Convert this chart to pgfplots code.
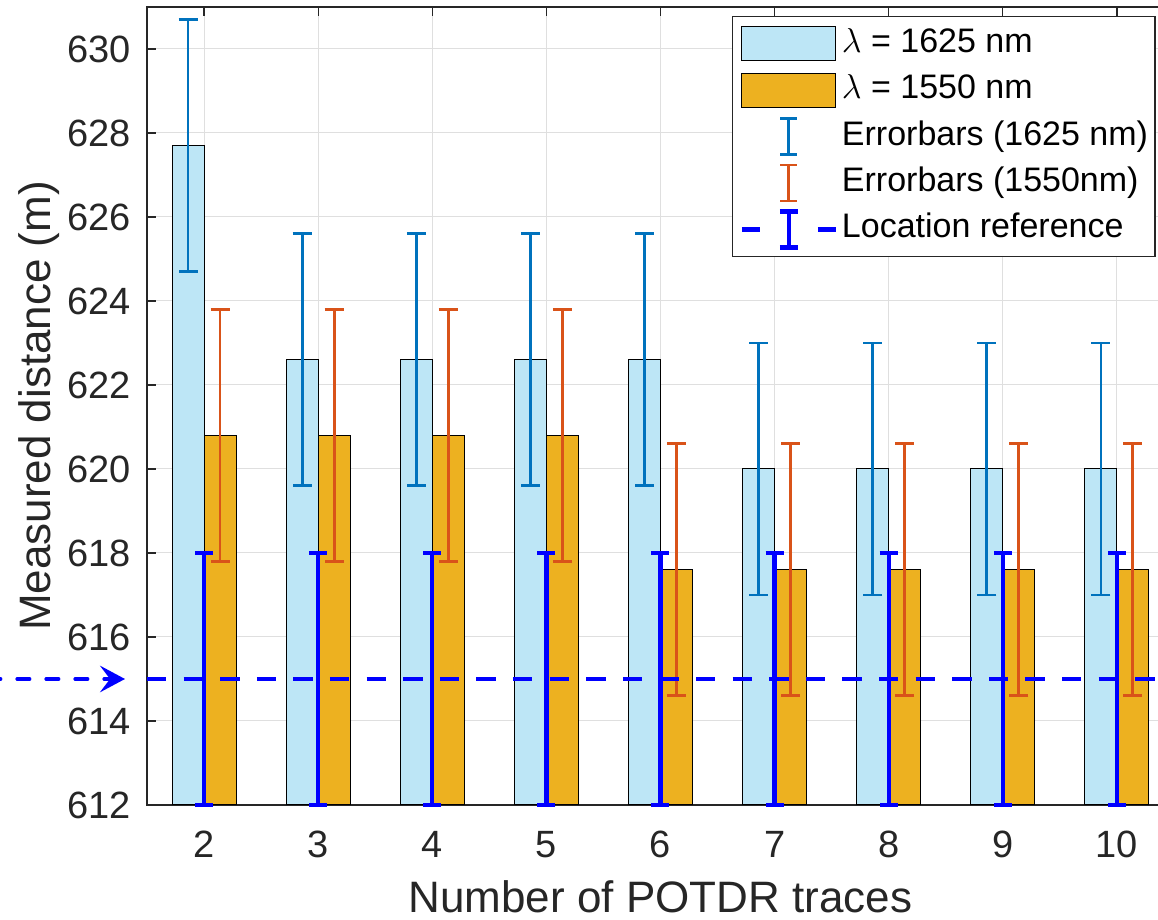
\documentclass[border=0pt]{standalone}
\usepackage{fontspec}
\setmainfont{Liberation Sans}
\usepackage{pgfplots}
\pgfplotsset{compat=1.18}
\usetikzlibrary{arrows.meta}
\definecolor{barblue}{HTML}{BDE6F6}
\definecolor{barorange}{HTML}{EDB120}
\definecolor{ebblue}{HTML}{0072BD}
\definecolor{eborange}{HTML}{D95319}
\definecolor{axgray}{HTML}{262626}
\definecolor{gridgray}{HTML}{DFDFDF}
\definecolor{refblue}{HTML}{0000FF}

\pgfplotsset{
  common/.style={scale only axis, width=513.5pt, height=399pt,
    xmin=1.5, xmax=10.5, ymin=612, ymax=631, at={(0,0)}, anchor=south west},
  eb/.style={draw=none, mark=none, forget plot,
    error bars/.cd, y dir=both, y explicit,
    error bar style={#1, line width=1.4pt, solid},
    error mark options={#1, line width=1.4pt, mark size=4.75pt, solid, rotate=90}},
  ebref/.style={draw=none, mark=none, forget plot,
    error bars/.cd, y dir=both, y explicit,
    error bar style={refblue, line width=2.2pt, solid},
    error mark options={refblue, line width=2.2pt, mark size=4.5pt, solid, rotate=90}},
}

\begin{document}
\begin{tikzpicture}
\begin{axis}[common,
  grid=major, grid style={gridgray, line width=0.5pt},
  axis line style={axgray, line width=0.6pt},
  tick style={axgray, line width=0.6pt}, tick align=inside, major tick length=4.5pt,
  xtick={2,...,10}, ytick={612,614,...,630},
  /pgf/number format/assume math mode=true,
  ticklabel style={font=\fontsize{19}{19}\selectfont, text=axgray},
  xticklabel style={anchor=base, inner sep=0pt, yshift=-26.5pt},
  yticklabel style={anchor=east, inner sep=0pt, xshift=-8pt},
  xlabel={Number of POTDR traces}, ylabel={Measured distance (m)},
  label style={font=\fontsize{22}{22}\selectfont, text=axgray, inner sep=0pt},
  xlabel style={at={([yshift=-53.9pt]rel axis cs:0.5,0)}, anchor=base},
  ylabel style={at={([xshift=-54pt]rel axis cs:0,0.5)}, anchor=center},
]
\addplot[ybar, bar width=16pt, bar shift=-8pt, fill=barblue, draw=black, line width=0.5pt]
  coordinates {(2,627.7) (3,622.6) (4,622.6) (5,622.6) (6,622.6) (7,620.0) (8,620.0) (9,620.0) (10,620.0)};
\addplot[ybar, bar width=16pt, bar shift=8pt, fill=barorange, draw=black, line width=0.5pt]
  coordinates {(2,620.8) (3,620.8) (4,620.8) (5,620.8) (6,617.6) (7,617.6) (8,617.6) (9,617.6) (10,617.6)};
\coordinate (SW) at (rel axis cs:0,0);
\coordinate (NW) at (rel axis cs:0,1);
\end{axis}
\begin{axis}[common, hide axis, clip=false,
  legend cell align=left,
  legend style={at={(0.5696,0.9887)}, anchor=north west, draw=axgray, line width=0.6pt,
    fill=white, font=\fontsize{17}{17}\selectfont, inner xsep=3.5pt, inner ysep=2pt,
    row sep=0pt, column sep=2pt, nodes={inner sep=0pt, text=black, text height=12.5pt, text depth=4pt}},
]
\addlegendimage{legend image code/.code={\draw[fill=barblue, draw=black, line width=0.5pt] (0pt,-8.5pt) rectangle (47pt,8.5pt); \path[draw=none, fill=none] (0pt,-11.6pt) rectangle (47pt,11.6pt);}}
\addlegendentry{$\lambda$ = 1625 nm}
\addlegendimage{legend image code/.code={\draw[fill=barorange, draw=black, line width=0.5pt] (0pt,-8.5pt) rectangle (47pt,8.5pt); \path[draw=none, fill=none] (0pt,-11.6pt) rectangle (47pt,11.6pt);}}
\addlegendentry{$\lambda$ = 1550 nm}
\addlegendimage{legend image code/.code={\draw[ebblue, line width=1.4pt, solid] (23.5pt,-9pt)--(23.5pt,9pt) (19.25pt,-9pt)--(27.75pt,-9pt) (19.25pt,9pt)--(27.75pt,9pt); \path[draw=none, fill=none] (0pt,-11.6pt) rectangle (47pt,11.6pt);}}
\addlegendentry{Errorbars (1625 nm)}
\addlegendimage{legend image code/.code={\draw[eborange, line width=1.4pt, solid] (23.5pt,-9pt)--(23.5pt,9pt) (19.25pt,-9pt)--(27.75pt,-9pt) (19.25pt,9pt)--(27.75pt,9pt); \path[draw=none, fill=none] (0pt,-11.6pt) rectangle (47pt,11.6pt);}}
\addlegendentry{Errorbars (1550nm)}
\addlegendimage{legend image code/.code={\draw[refblue, line width=2.2pt, solid] (0pt,0pt)--(9pt,0pt) (38pt,0pt)--(47pt,0pt) (23.5pt,-9pt)--(23.5pt,9pt) (19pt,-9pt)--(28pt,-9pt) (19pt,9pt)--(28pt,9pt); \path[draw=none, fill=none] (0pt,-11.6pt) rectangle (47pt,11.6pt);}}
\addlegendentry{Location reference}

\addplot[eb=ebblue] coordinates {(1.86,627.7) +- (0,3) (2.86,622.6) +- (0,3) (3.86,622.6) +- (0,3) (4.86,622.6) +- (0,3) (5.86,622.6) +- (0,3) (6.86,620.0) +- (0,3) (7.86,620.0) +- (0,3) (8.86,620.0) +- (0,3) (9.86,620.0) +- (0,3)};
\addplot[eb=eborange] coordinates {(2.14,620.8) +- (0,3) (3.14,620.8) +- (0,3) (4.14,620.8) +- (0,3) (5.14,620.8) +- (0,3) (6.14,617.6) +- (0,3) (7.14,617.6) +- (0,3) (8.14,617.6) +- (0,3) (9.14,617.6) +- (0,3) (10.14,617.6) +- (0,3)};
\addplot[refblue, line width=2.2pt, dash pattern=on 9.7pt off 8.6pt, forget plot] coordinates {(1.5,615) (10.5,615)};
\addplot[ebref] coordinates {(2,615) +- (0,3) (3,615) +- (0,3) (4,615) +- (0,3) (5,615) +- (0,3) (6,615) +- (0,3) (7,615) +- (0,3) (8,615) +- (0,3) (9,615) +- (0,3) (10,615) +- (0,3)};
\addplot[refblue, line width=1.6pt, line cap=round, dash pattern=on 6.4pt off 8.1pt, -{Stealth[length=12.5pt,width=13.3pt,inset=5pt]}, forget plot] coordinates {(0.1066,615) (1.3072,615)};
\end{axis}
\pgfresetboundingbox
\path[use as bounding box] ([xshift=-73.5pt,yshift=-57.5pt]SW) rectangle ([xshift=505.5pt,yshift=3.5pt]NW);
\end{tikzpicture}
\end{document}
